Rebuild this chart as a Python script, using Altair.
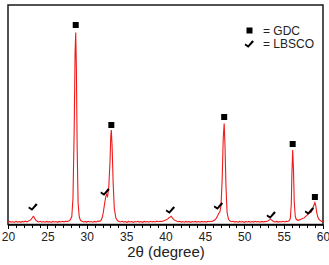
import altair as alt
import pandas as pd

# ---- data ----
two_theta = [20.0, 20.2, 20.4, 20.6, 20.8, 21.0, 21.2, 21.4, 21.6, 21.8, 22.0, 22.2, 22.4, 22.6, 22.8,
             23.0, 23.12, 23.25, 23.37, 23.5, 23.7, 23.9, 24.1, 24.3, 24.5, 24.7, 24.9, 25.1, 25.3, 25.5,
             25.7, 25.9, 26.1, 26.3, 26.5, 26.7, 26.9, 27.1, 27.3, 27.5, 27.7, 27.9, 28.1, 28.25, 28.4,
             28.52, 28.6, 28.68, 28.78, 28.9, 29.05, 29.2, 29.4, 29.6, 29.8, 30.0, 30.2, 30.4, 30.6, 30.8,
             31.0, 31.2, 31.4, 31.6, 31.8, 31.95, 32.1, 32.25, 32.4, 32.52, 32.65, 32.8, 32.95, 33.05, 33.12,
             33.22, 33.35, 33.5, 33.7, 33.9, 34.1, 34.3, 34.5, 34.7, 34.9, 35.1, 35.3, 35.5, 35.7, 35.9,
             36.1, 36.3, 36.5, 36.7, 36.9, 37.1, 37.3, 37.5, 37.7, 37.9, 38.1, 38.3, 38.5, 38.7, 38.9,
             39.1, 39.3, 39.5, 39.7, 39.9, 40.1, 40.3, 40.45, 40.6, 40.72, 40.85, 41.0, 41.2, 41.4, 41.6,
             41.8, 42.0, 42.2, 42.4, 42.6, 42.8, 43.0, 43.2, 43.4, 43.6, 43.8, 44.0, 44.2, 44.4, 44.6,
             44.8, 45.0, 45.2, 45.4, 45.6, 45.8, 46.0, 46.2, 46.4, 46.6, 46.75, 46.9, 47.05, 47.2, 47.33,
             47.45, 47.55, 47.68, 47.82, 48.0, 48.2, 48.4, 48.6, 48.8, 49.0, 49.2, 49.4, 49.6, 49.8, 50.0,
             50.2, 50.4, 50.6, 50.8, 51.0, 51.2, 51.4, 51.6, 51.8, 52.0, 52.2, 52.4, 52.6, 52.8, 53.0,
             53.2, 53.35, 53.5, 53.7, 53.9, 54.1, 54.3, 54.5, 54.7, 54.9, 55.1, 55.3, 55.5, 55.7, 55.85,
             55.97, 56.05, 56.15, 56.25, 56.35, 56.48, 56.6, 56.8, 57.0, 57.2, 57.4, 57.6, 57.8, 58.0, 58.15,
             58.3, 58.45, 58.6, 58.75, 58.88, 58.97, 59.08, 59.2, 59.35, 59.5, 59.7, 59.85, 60.0]
intensity = [2.6, 3.1, 2.3, 2.9, 2.1, 3.2, 2.4, 3.0, 2.2, 3.1, 2.6, 3.3, 2.6, 3.5, 4.1,
             5.6, 7.4, 8.2, 6.6, 4.6, 3.3, 2.6, 3.2, 2.3, 3.0, 2.3, 3.1, 2.4, 2.9, 2.1,
             3.1, 2.5, 3.0, 2.2, 3.1, 2.6, 3.2, 2.7, 3.2, 2.9, 3.5, 4.6, 8.0, 26, 92,
             172, 192, 158, 78, 22, 7.5, 4.2, 3.2, 2.6, 3.1, 2.4, 3.2, 2.5, 3.0, 2.3,
             3.1, 2.6, 3.4, 3.1, 4.0, 6.5, 12, 20, 27, 30, 28, 38, 62, 88, 94.5,
             78, 42, 16, 6.5, 4.0, 3.1, 2.5, 3.2, 2.4, 3.0, 2.2, 3.1, 2.5, 2.9, 2.2,
             3.0, 2.5, 3.2, 2.4, 2.9, 2.2, 3.1, 2.6, 3.0, 2.3, 3.2, 2.6, 3.0, 2.5, 3.3,
             2.8, 3.2, 3.0, 3.6, 4.1, 4.8, 5.6, 6.8, 7.6, 8.3, 6.9, 5.4, 4.1, 3.4, 2.8,
             3.2, 2.4, 3.0, 2.3, 3.1, 2.5, 2.9, 2.2, 3.0, 2.5, 3.1, 2.4, 2.9, 2.3, 3.1,
             2.6, 3.0, 2.4, 3.2, 2.8, 3.3, 3.4, 4.2, 5.6, 8.5, 11, 12.5, 19, 46, 86,
             101, 80, 38, 12, 5.2, 3.5, 2.8, 3.2, 2.4, 3.0, 2.3, 3.1, 2.5, 2.9, 2.2,
             3.0, 2.5, 3.1, 2.3, 2.9, 2.4, 3.2, 2.6, 3.0, 2.3, 3.1, 2.6, 2.9, 3.0, 3.6,
             4.6, 5.4, 4.4, 3.1, 2.5, 3.1, 2.4, 3.0, 2.5, 3.2, 2.6, 3.1, 3.0, 3.7, 6.0,
             20, 50, 74.5, 55, 22, 8.0, 5.2, 4.2, 4.6, 5.3, 5.9, 6.6, 8.1, 9.4, 11,
             13, 11.8, 14, 17, 20, 22, 19, 12, 7.2, 5.1, 3.7, 3.1, 2.9]

gdc_two_theta = [28.6, 33.12, 47.45, 56.15, 58.97]
gdc_marker_y = [199.5, 99.5, 107.5, 80.5, 27.5]
lbsco_two_theta = [23.2, 32.35, 40.65, 46.75, 53.45, 58.3]
lbsco_marker_y = [17.5, 32.5, 14.5, 18.5, 9.5, 13.5]

major_ticks = [20, 25, 30, 35, 40, 45, 50, 55, 60]
minor_ticks = list(range(20, 61))
legend_labels = ["= GDC", "= LBSCO"]
x_title = "2θ (degree)"

FONT = "Liberation Sans"
CHECK = "M -1.1 -0.15 L -0.35 0.35 L 0.7 -0.95 L 1.15 -0.55 L -0.3 1.0 L -1.25 0.35 Z"

xscale = alt.Scale(domain=[20, 60], nice=False, zero=False)
yscale = alt.Scale(domain=[0, 219.5], nice=False)

spec = pd.DataFrame({"two_theta": two_theta, "intensity": intensity})
gdc = pd.DataFrame({"two_theta": gdc_two_theta, "y": gdc_marker_y})
lbsco = pd.DataFrame({"two_theta": lbsco_two_theta, "y": lbsco_marker_y})

line = alt.Chart(spec).mark_line(color="#f01a1a", strokeWidth=1.1).encode(
    x=alt.X("two_theta:Q", scale=xscale,
            axis=alt.Axis(values=major_ticks, title=x_title, tickSize=4, tickWidth=1,
                          tickColor="black", labelFontSize=12, labelFont=FONT,
                          labelColor="#222", titleFont=FONT, titleFontSize=15,
                          titleFontWeight="normal", titleColor="#222", labelPadding=3,
                          titlePadding=2, domainColor="black", domainWidth=1.5,
                          grid=False, orient="bottom", format="d", labelFlush=False)),
    y=alt.Y("intensity:Q", scale=yscale, axis=None),
)

squares = alt.Chart(gdc).mark_point(shape="square", filled=True, size=36, color="black", opacity=1).encode(
    x=alt.X("two_theta:Q", scale=xscale,
            axis=alt.Axis(values=minor_ticks, labels=False, tickSize=3, tickColor="black",
                          domain=False, title=None, grid=False, orient="bottom")),
    y=alt.Y("y:Q", scale=yscale, axis=None),
)

checks = alt.Chart(lbsco).mark_point(shape=CHECK, filled=True, size=60, color="black", opacity=1).encode(
    x=alt.X("two_theta:Q", scale=xscale, axis=None),
    y=alt.Y("y:Q", scale=yscale, axis=None),
)

leg_df = pd.DataFrame({"label": legend_labels})
leg_sq = alt.Chart(leg_df.iloc[[0]]).mark_point(shape="square", filled=True, size=36, color="black", opacity=1).encode(
    x=alt.value(241.5), y=alt.value(25.5))
leg_ck = alt.Chart(leg_df.iloc[[1]]).mark_point(shape=CHECK, filled=True, size=60, color="black", opacity=1).encode(
    x=alt.value(241.5), y=alt.value(39))
leg_t1 = alt.Chart(leg_df.iloc[[0]]).mark_text(align="left", baseline="middle", font=FONT, fontSize=12, color="#222").encode(
    x=alt.value(255), y=alt.value(25.5), text="label:N")
leg_t2 = alt.Chart(leg_df.iloc[[1]]).mark_text(align="left", baseline="middle", font=FONT, fontSize=12, color="#222").encode(
    x=alt.value(255), y=alt.value(38.5), text="label:N")

chart = alt.layer(line, squares, checks, leg_sq, leg_ck, leg_t1, leg_t2).resolve_axis(
    x="independent"
).properties(
    width=315, height=219.5,
    autosize=alt.AutoSizeParams(type="none"),
    padding={"left": 8, "top": 5, "right": 6, "bottom": 40},
    background="white",
).configure_view(stroke="#1a1a1a", strokeWidth=1.5)

chart.save("out.html", embed_options={"renderer": "svg", "actions": False})
